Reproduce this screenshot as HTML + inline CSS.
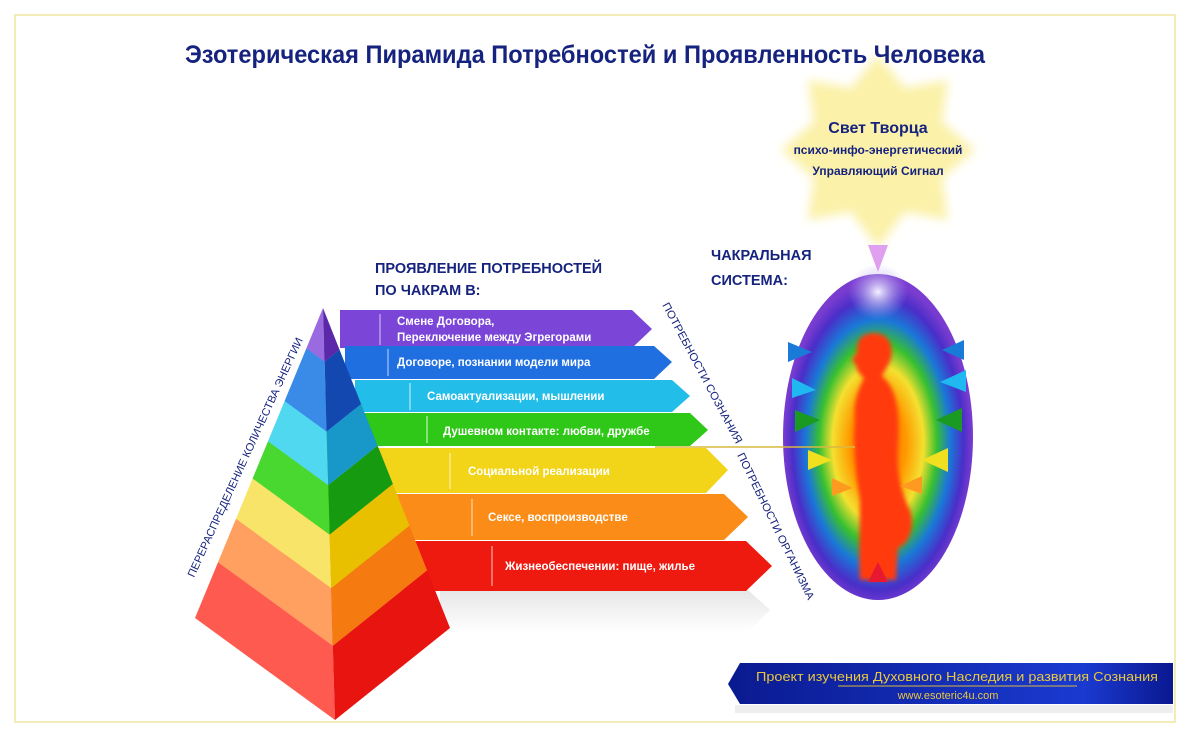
<!DOCTYPE html>
<html><head><meta charset="utf-8"><style>
html,body{margin:0;padding:0;background:#fff;}
svg{display:block;}
text{font-family:"Liberation Sans",sans-serif;}
</style></head><body>
<svg width="1189" height="735" viewBox="0 0 1189 735" xmlns="http://www.w3.org/2000/svg">
<defs>
<filter id="bl" x="-20%" y="-20%" width="140%" height="140%"><feGaussianBlur stdDeviation="5"/></filter>
<filter id="bl2" x="-20%" y="-20%" width="140%" height="140%"><feGaussianBlur stdDeviation="2"/></filter>
<radialGradient id="aura" cx="0.5" cy="0.52" r="0.5">
<stop offset="0" stop-color="#ff5a00"/><stop offset="0.3" stop-color="#ff9a00"/>
<stop offset="0.48" stop-color="#f4e030"/><stop offset="0.62" stop-color="#38c030"/>
<stop offset="0.76" stop-color="#1a78d8"/><stop offset="0.9" stop-color="#4a2ec8"/>
<stop offset="1" stop-color="#7a3cd0"/></radialGradient>
<radialGradient id="topglow" cx="0.5" cy="0.5" r="0.5"><stop offset="0" stop-color="#f4f0ff"/><stop offset="1" stop-color="#b0a0f0" stop-opacity="0"/></radialGradient>
<linearGradient id="ban" x1="0" y1="0" x2="1" y2="0"><stop offset="0" stop-color="#0a1a90"/><stop offset="0.8" stop-color="#1a3ad0"/><stop offset="1" stop-color="#0a1890"/></linearGradient>
<linearGradient id="shd" x1="0" y1="0" x2="0" y2="1"><stop offset="0" stop-color="#e6e6e6"/><stop offset="1" stop-color="#fff"/></linearGradient>
</defs>
<rect x="15" y="15" width="1160" height="707" fill="#fff" stroke="#f3ebb8" stroke-width="2"/>

<!-- star -->
<polygon filter="url(#bl)" fill="#fbf1a8" points="878,55 905,88 948,80 942,122 975,150 942,178 948,220 905,212 878,248 851,212 808,220 814,178 781,150 814,122 808,80 851,88"/>
<text x="585" y="63" text-anchor="middle" font-size="25" font-weight="bold" fill="#16237e" textLength="800" lengthAdjust="spacingAndGlyphs">Эзотерическая Пирамида Потребностей и Проявленность Человека</text>
<text x="878" y="133" text-anchor="middle" font-size="16" font-weight="bold" fill="#16237e">Свет Творца</text>
<text x="878" y="154" text-anchor="middle" font-size="12" font-weight="bold" fill="#16237e">психо-инфо-энергетический</text>
<text x="878" y="175" text-anchor="middle" font-size="12" font-weight="bold" fill="#16237e">Управляющий Сигнал</text>

<text x="375" y="273" font-size="14.5" font-weight="bold" fill="#16237e">ПРОЯВЛЕНИЕ ПОТРЕБНОСТЕЙ</text>
<text x="375" y="295" font-size="14.5" font-weight="bold" fill="#16237e">ПО ЧАКРАМ В:</text>
<text x="711" y="260" font-size="14.5" font-weight="bold" fill="#16237e">ЧАКРАЛЬНАЯ</text>
<text x="711" y="285" font-size="14.5" font-weight="bold" fill="#16237e">СИСТЕМА:</text>

<!-- aura -->
<ellipse cx="878" cy="437" rx="95" ry="163" fill="url(#aura)"/>
<ellipse cx="878" cy="292" rx="30" ry="28" fill="url(#topglow)"/>
<path filter="url(#bl2)" fill="#ff3a10" d="M874,333 C888,333 894,345 891,358 C889,366 884,371 882,376 C896,388 900,410 898,440 C896,470 900,490 910,510 C916,528 908,545 898,548 L896,580 L860,580 C858,555 860,530 860,500 C855,470 853,440 855,420 C853,400 860,386 864,378 C860,375 856,370 856,365 L852,360 L857,352 C856,340 862,333 874,333 Z"/>
<!-- chakra cones -->
<polygon points="788,342 788,362 812,352" fill="#1a7ad8"/>
<polygon points="792,378 792,398 816,390" fill="#20b8f0"/>
<polygon points="795,410 795,432 820,420" fill="#1a9a20"/>
<polygon points="808,450 808,470 832,460" fill="#f0e020"/>
<polygon points="832,478 832,496 853,488" fill="#ff9a20"/>
<polygon points="964,340 964,360 942,350" fill="#1a7ad8"/>
<polygon points="966,370 966,392 940,382" fill="#20b8f0"/>
<polygon points="962,408 962,432 936,420" fill="#1a9a20"/>
<polygon points="948,448 948,472 922,460" fill="#f0e020"/>
<polygon points="922,476 922,494 900,486" fill="#ff9a20"/>
<polygon points="878,562 868,582 888,582" fill="#e81830"/>
<polygon points="868,245 888,245 878,272" fill="#e0a0f0"/>
<line x1="655" y1="447" x2="855" y2="447" stroke="#d8b840" stroke-width="1.5"/>

<!-- shadow -->
<polygon points="440,590 748,590 770,610 748,632 440,632" fill="url(#shd)"/>
<!-- banners -->
<g font-size="11.5" font-weight="bold" fill="#fff">
<polygon points="340,310 632,310 652,329 632,348 340,348" fill="#7b45d8"/>
<line x1="380" y1="314" x2="380" y2="345" stroke="#d8c8f8"/>
<text x="397" y="325">Смене Договора,</text><text x="397" y="341">Переключение между Эгрегорами</text>
<polygon points="345,346 654,346 672,362 654,379 345,379" fill="#1f6fe0"/>
<line x1="388" y1="349" x2="388" y2="376" stroke="#c0d8ff"/>
<text x="397" y="366">Договоре, познании модели мира</text>
<polygon points="355,380 672,380 690,396 672,412 355,412" fill="#22bde8"/>
<line x1="410" y1="383" x2="410" y2="410" stroke="#d0f4ff"/>
<text x="427" y="400">Самоактуализации, мышлении</text>
<polygon points="360,413 690,413 708,430 690,446 360,446" fill="#30c818"/>
<line x1="427" y1="416" x2="427" y2="443" stroke="#d8ffd0"/>
<text x="443" y="435">Душевном контакте: любви, дружбе</text>
<polygon points="370,448 706,448 728,470 706,493 370,493" fill="#f2d418"/>
<line x1="450" y1="453" x2="450" y2="489" stroke="#fff8c0"/>
<text x="468" y="475">Социальной реализации</text>
<polygon points="380,494 724,494 748,517 724,540 380,540" fill="#fb8c18"/>
<line x1="472" y1="499" x2="472" y2="536" stroke="#ffe0c0"/>
<text x="488" y="521">Сексе, воспроизводстве</text>
<polygon points="400,541 746,541 772,566 746,591 400,591" fill="#ee1a10"/>
<line x1="492" y1="546" x2="492" y2="586" stroke="#ffc8c0"/>
<text x="505" y="570">Жизнеобеспечении: пище, жилье</text>
</g>

<!-- pyramid -->
<g>
<polygon points="195,618 335,720 332.8,645.8 218,562.2" fill="#ff5a50"/>
<polygon points="335,720 450,628 427.1,570.4 332.8,645.8" fill="#e81410"/>
<polygon points="218,562.2 332.8,645.8 427.1,570.4 330,550" fill="#ff3a30"/>
<polygon points="218,562.2 332.8,645.8 331.2,588.2 236,518.8" fill="#ffa060"/>
<polygon points="332.8,645.8 427.1,570.4 409.4,525.6 331.2,588.2" fill="#f57a10"/>
<polygon points="236,518.8 331.2,588.2 409.4,525.6 320,506" fill="#ff8a30"/>
<polygon points="236,518.8 331.2,588.2 329.6,534.6 252.6,478.5" fill="#f8e468"/>
<polygon points="331.2,588.2 409.4,525.6 392.9,484 329.6,534.6" fill="#e8c000"/>
<polygon points="252.6,478.5 329.6,534.6 392.9,484 318,466" fill="#f4d430"/>
<polygon points="252.6,478.5 329.6,534.6 328.2,485.2 268,441.3" fill="#48d830"/>
<polygon points="329.6,534.6 392.9,484 377.6,445.6 328.2,485.2" fill="#169a10"/>
<polygon points="268,441.3 328.2,485.2 377.6,445.6 316,428" fill="#30c020"/>
<polygon points="268,441.3 328.2,485.2 326.6,431.6 284.6,401" fill="#50d8f0"/>
<polygon points="328.2,485.2 377.6,445.6 361.1,404 326.6,431.6" fill="#1898c8"/>
<polygon points="284.6,401 326.6,431.6 361.1,404 318,390" fill="#28c0e8"/>
<polygon points="284.6,401 326.6,431.6 324.6,361.6 306.4,348.3" fill="#3a8ae8"/>
<polygon points="326.6,431.6 361.1,404 339.5,349.6 324.6,361.6" fill="#1248b0"/>
<polygon points="306.4,348.3 324.6,361.6 339.5,349.6 320,344" fill="#2a78e0"/>
<polygon points="306.4,348.3 324.6,361.6 323,308" fill="#9a6ae0"/>
<polygon points="324.6,361.6 339.5,349.6 323,308" fill="#5a28a8"/>
</g>

<!-- rotated labels -->
<text transform="translate(194,578) rotate(-65.4)" font-size="11" fill="#16237e" textLength="262" lengthAdjust="spacingAndGlyphs">ПЕРЕРАСПРЕДЕЛЕНИЕ КОЛИЧЕСТВА ЭНЕРГИИ</text>
<text transform="translate(662,305) rotate(62)" font-size="11" fill="#16237e" textLength="158" lengthAdjust="spacingAndGlyphs">ПОТРЕБНОСТИ СОЗНАНИЯ</text>
<text transform="translate(737,455) rotate(64)" font-size="11" fill="#16237e" textLength="162" lengthAdjust="spacingAndGlyphs">ПОТРЕБНОСТИ ОРГАНИЗМА</text>

<!-- bottom banner -->
<polygon points="740,663 1173,663 1173,704 740,704 728,684" fill="url(#ban)"/>
<rect x="735" y="705" width="438" height="8" fill="#eeeeee"/>
<text x="957" y="681" text-anchor="middle" font-size="13" fill="#e8c840" textLength="402" lengthAdjust="spacingAndGlyphs">Проект изучения Духовного Наследия и развития Сознания</text>
<line x1="838" y1="686" x2="1077" y2="686" stroke="#d8b840" stroke-width="1"/>
<text x="948" y="699" text-anchor="middle" font-size="11" fill="#e8c840">www.esoteric4u.com</text>
</svg>
</body></html>
